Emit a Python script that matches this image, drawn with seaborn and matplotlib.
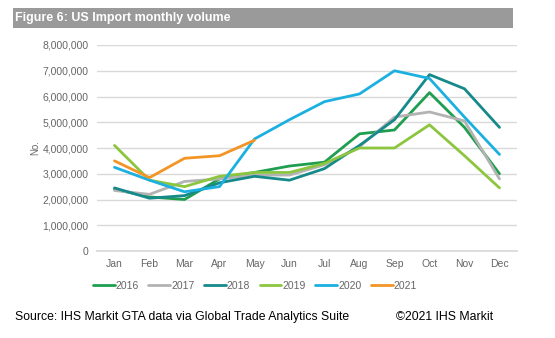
import matplotlib
matplotlib.use("Agg")
import matplotlib.pyplot as plt
import matplotlib.ticker as mticker
from matplotlib.patches import Rectangle
from matplotlib.lines import Line2D
import seaborn as sns
import pandas as pd

months = ["Jan", "Feb", "Mar", "Apr", "May", "Jun", "Jul", "Aug", "Sep", "Oct", "Nov", "Dec"]
v2016 = [2.40, 2.10, 2.00, 2.80, 3.05, 3.30, 3.45, 4.55, 4.70, 6.15, 4.80, 3.00]
v2017 = [2.35, 2.20, 2.70, 2.80, 2.95, 2.95, 3.35, 4.05, 5.20, 5.40, 5.05, 2.80]
v2018 = [2.45, 2.05, 2.15, 2.65, 2.90, 2.75, 3.20, 4.10, 5.10, 6.85, 6.30, 4.80]
v2019 = [4.10, 2.75, 2.50, 2.90, 3.05, 3.05, 3.40, 4.00, 4.00, 4.90, 3.70, 2.45]
v2020 = [3.25, 2.75, 2.30, 2.50, 4.35, 5.10, 5.80, 6.10, 7.00, 6.70, 5.20, 3.75]
v2021 = [3.50, 2.85, 3.60, 3.70, 4.30]
series = {"2016": v2016, "2017": v2017, "2018": v2018, "2019": v2019, "2020": v2020, "2021": v2021}
colors = ["#1f9e50", "#b3b3b3", "#16898a", "#8cc63f", "#1cb0e0", "#f39526"]

rows = []
for yr, vals in series.items():
    for i, v in enumerate(vals):
        rows.append({"month": i, "value": v * 1e6, "year": yr})
df = pd.DataFrame(rows)

sns.set_theme(style="white")
plt.rcParams["font.family"] = ["Liberation Sans", "DejaVu Sans"]

fig = plt.figure(figsize=(5.55, 3.38), dpi=100)
ax = fig.add_axes([97/555, 1-251/338, 420/555, 206/338])

sns.lineplot(data=df, x="month", y="value", hue="year", palette=colors,
             linewidth=2, ax=ax, legend=False, sort=False)

ax.set_xlim(-0.5, 11.5)
ax.set_ylim(0, 8e6)
ax.set_xticks(range(12))
ax.set_xticklabels(months)
ax.set_yticks([i * 1e6 for i in range(9)])
ax.yaxis.set_major_formatter(mticker.FuncFormatter(lambda v, p: f"{int(v):,}"))
ax.tick_params(axis="both", labelsize=7.5, colors="#666666", length=0, pad=6)
ax.grid(axis="y", color="#d9d9d9", linewidth=1)
ax.set_axisbelow(True)
for s in ["top", "right", "left"]:
    ax.spines[s].set_visible(False)
ax.spines["bottom"].set_color("#d9d9d9")
ax.set_xlabel("")
ax.set_ylabel("No.", fontsize=7, color="#666666", labelpad=2)

# Legend
handles = [Line2D([0], [0], color=c, lw=2) for c in colors]
fig.legend(handles, list(series.keys()), loc="center", bbox_to_anchor=(255/555, 1-286/338),
           ncol=6, frameon=False, fontsize=7.5, handlelength=2.1, handletextpad=0.1,
           columnspacing=0.9, labelcolor="#666666")

# Title bar
fig.patches.append(Rectangle((13/555, 1-28/338), 500/555, 20/338, transform=fig.transFigure,
                             facecolor="#9a9a9a", edgecolor="none"))
fig.text(15/555, 1-18/338, "Figure 6: US Import monthly volume", color="white",
         fontsize=9, fontweight="bold", va="center", ha="left")

fig.text(15/555, 1-317/338, "Source: IHS Markit GTA data via Global Trade Analytics Suite",
         fontsize=8.8, color="#000000", va="center", ha="left")
fig.text(493/555, 1-317/338, "\u00a92021 IHS Markit", fontsize=8.8, color="#000000",
         va="center", ha="right")

fig.savefig("out.png", dpi=100)
